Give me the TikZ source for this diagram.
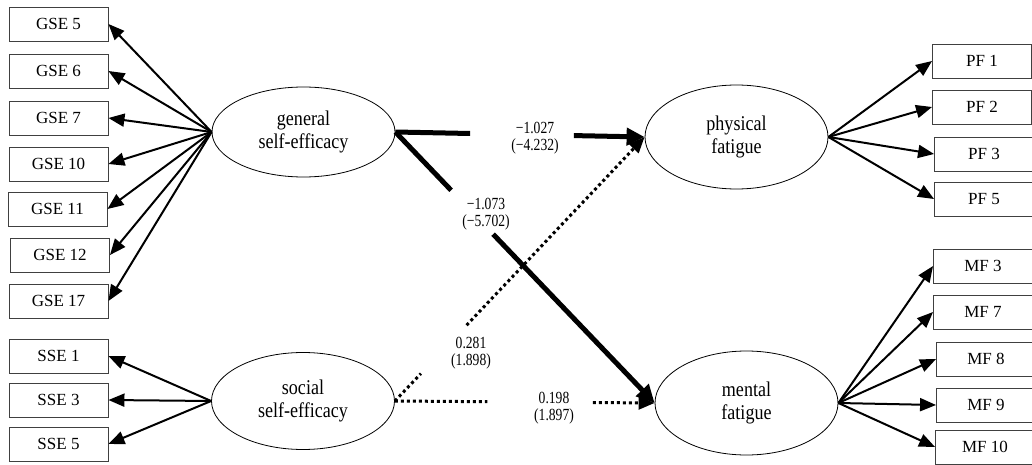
\documentclass[tikz,border=0pt]{standalone}
\usepackage{fontspec}
\setmainfont{Liberation Serif}
\newfontfamily\latfont{Liberation Serif}[FakeStretch=0.86]
\newfontfamily\numfont{Liberation Serif}[FakeStretch=0.8]
\usetikzlibrary{arrows.meta,shapes.geometric,calc}
\begin{document}
\begin{tikzpicture}[x=1pt,y=-1pt,
 obs/.style={draw=black!75, line width=0.9pt, minimum width=99pt, minimum height=34pt, inner sep=0pt, font=\fontsize{17}{17}\selectfont},
 lat/.style={ellipse, draw, line width=0.8pt, inner sep=0pt, align=center, minimum width=183pt, font=\latfont\fontsize{21}{23}\selectfont},
 load/.style={line width=2pt, -{Triangle[length=16pt,width=13pt]}},
 strong/.style={line width=5pt},
 strongarr/.style={line width=5pt, -{Triangle[length=18pt,width=17pt]}},
 weak/.style={line width=3pt, dash pattern=on 3pt off 3pt},
 weakarr/.style={weak, -{Triangle[length=16pt,width=13pt]}},
 coef/.style={align=center, inner sep=0pt, font=\numfont\fontsize{17}{17}\selectfont}]
\useasboundingbox (0,0) rectangle (1032,465);

% latent variables
\node[lat, minimum height=90pt] (gse) at (303.5,132) {general\\self-efficacy};
\node[lat, minimum height=97pt] (sse) at (303,401) {social\\self-efficacy};
\node[lat, minimum height=104pt] (pf) at (736.5,137) {physical\\fatigue};
\node[lat, minimum height=104pt] (mf) at (746.5,403) {mental\\fatigue};

% observed: general self-efficacy
\node[obs] (g5) at (58.5,24) {GSE 5};
\node[obs] (g6) at (58.5,71) {GSE 6};
\node[obs] (g7) at (58.5,118) {GSE 7};
\node[obs] (g10) at (58.5,164) {GSE 10};
\node[obs] (g11) at (57.5,209) {GSE 11};
\node[obs] (g12) at (60,255) {GSE 12};
\node[obs] (g17) at (58.5,301) {GSE 17};
% observed: social self-efficacy
\node[obs] (s1) at (58.5,356) {SSE 1};
\node[obs] (s3) at (58.5,400) {SSE 3};
\node[obs] (s5) at (58.5,444) {SSE 5};
% observed: physical fatigue
\node[obs] (p1) at (982,61) {PF 1};
\node[obs] (p2) at (982,107) {PF 2};
\node[obs] (p3) at (984,154) {PF 3};
\node[obs] (p5) at (984,199) {PF 5};
% observed: mental fatigue
\node[obs] (m3) at (983,266) {MF 3};
\node[obs] (m7) at (983,312) {MF 7};
\node[obs] (m8) at (986,359) {MF 8};
\node[obs] (m9) at (986,405) {MF 9};
\node[obs] (m10) at (985,447) {MF 10};

% loadings
\foreach \b in {g5,g6,g7,g10,g11,g12,g17}
  \draw[load] (gse.west) -- (\b.east);
\foreach \b in {s1,s3,s5}
  \draw[load] (sse.west) -- (\b.east);
\foreach \b in {p1,p2,p3,p5}
  \draw[load] (pf.east) -- (\b.west);
\foreach \b in {m3,m7,m8,m9,m10}
  \draw[load] (mf.east) -- (\b.west);

% structural paths (with gaps for coefficients)
\coordinate (a1) at ($(gse.east)!0.30!(pf.west)$);
\coordinate (b1) at ($(gse.east)!0.716!(pf.west)$);
\draw[strong] (gse.east) -- (a1);
\draw[strongarr] (b1) -- (pf.west);

\coordinate (a2) at ($(gse.east)!0.215!(mf.west)$);
\coordinate (b2) at ($(gse.east)!0.377!(mf.west)$);
\draw[strong] (gse.east) -- (a2);
\draw[strongarr] (b2) -- (mf.west);

\coordinate (a3) at ($(sse.east)!0.104!(pf.west)$);
\coordinate (b3) at ($(sse.east)!0.287!(pf.west)$);
\draw[weak] (sse.east) -- (a3);
\draw[weakarr] (b3) -- (pf.west);

\coordinate (a4) at ($(sse.east)!0.356!(mf.west)$);
\coordinate (b4) at ($(sse.east)!0.762!(mf.west)$);
\draw[weak] (sse.east) -- (a4);
\draw[weakarr] (b4) -- (mf.west);

% coefficients
\node[coef] (c1) at (535,138) {−1.027\\(−4.232)};
\node[coef] (c2) at (486,214) {−1.073\\(−5.702)};
\node[coef] (c3) at (471,353) {0.281\\(1.898)};
\node[coef] (c4) at (554,408) {0.198\\(1.897)};
\end{tikzpicture}
\end{document}
